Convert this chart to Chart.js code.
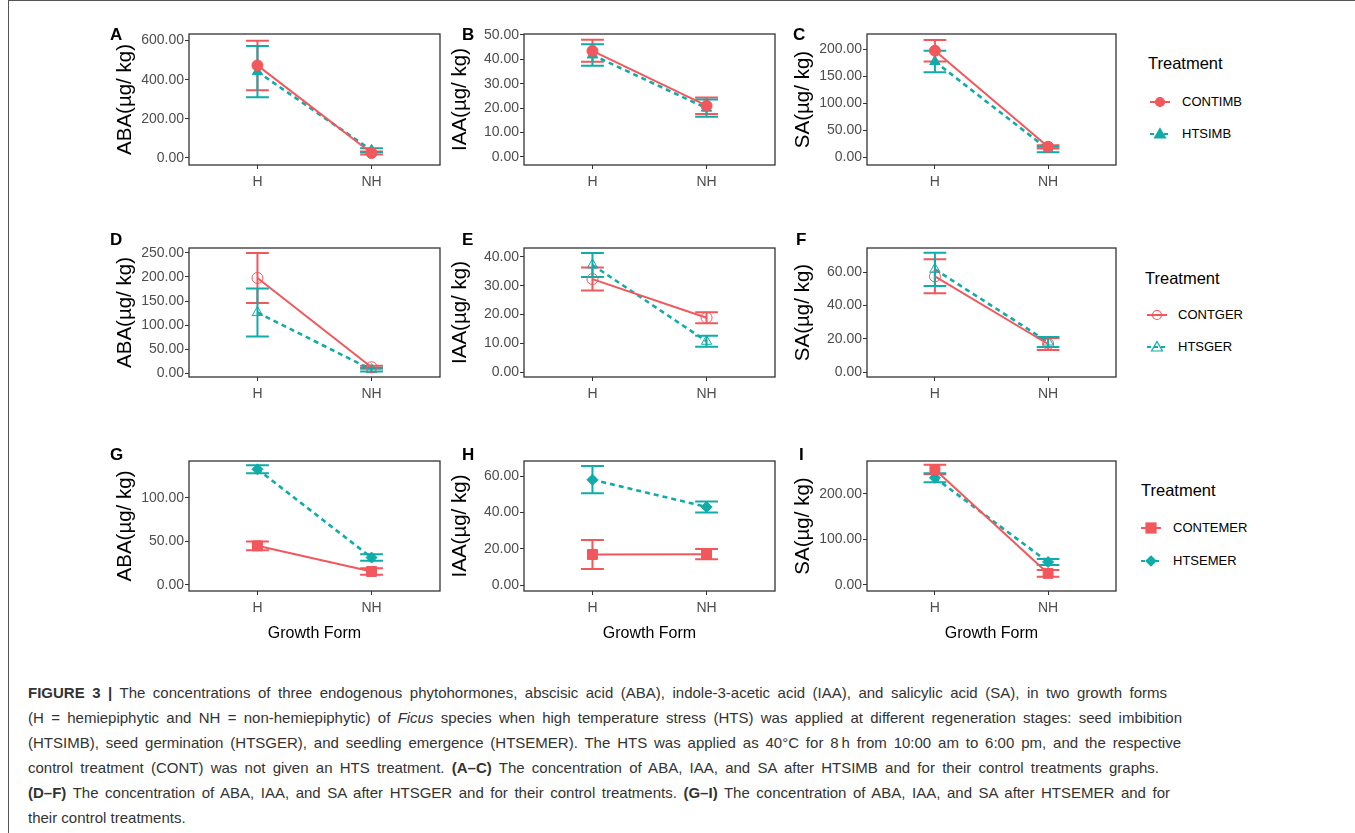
<!DOCTYPE html>
<html>
<head>
<meta charset="utf-8">
<title>Figure 3 | Phytohormones in Ficus</title>
<script src="https://cdn.jsdelivr.net/npm/chart.js@4.4.1/dist/chart.umd.min.js"></script>
<style>
  body { margin: 0; background: #fff; font-family: 'Liberation Sans', Arial, sans-serif; }
  #page { position: relative; width: 1355px; height: 833px; overflow: hidden; }
  #frame { position: absolute; left: 8px; top: 0; width: 1400px; height: 900px; border-left: 1px solid #555; border-top: 1px solid #555; }
  canvas { position: absolute; }
  .tag { position: absolute; font-weight: bold; font-size: 17px; line-height: 17px; color: #000; }
  .ttl { position: absolute; font-size: 16.5px; line-height: 20px; color: #000; white-space: nowrap; }
  .item { position: absolute; font-size: 13px; line-height: 16px; color: #000; white-space: nowrap; }
  .key { position: absolute; }
  .cap { position: absolute; left: 28px; height: 25px; line-height: 25px; font-size: 15px; color: #333;
         white-space: nowrap; text-align: justify; text-align-last: justify; }
  .cap.last { text-align: left; text-align-last: left; }
</style>
</head>
<body>
<div id="page">
  <div id="frame"></div>
</div>
<script>
// ------------------------------------------------------------------ //
// Datos (media, error) para H y NH

const growthForms = ['H', 'NH'];

const treatmentsImb = ['CONTIMB', 'HTSIMB'];
const treatmentsGer = ['CONTGER', 'HTSGER'];
const treatmentsEmer = ['CONTEMER', 'HTSEMER'];

const hormoneTitles = ['ABA(\u00b5g/ kg)', 'IAA(\u00b5g/ kg)', 'SA(\u00b5g/ kg)'];
const panelTags = [['A', 'B', 'C'], ['D', 'E', 'F'], ['G', 'H', 'I']];

// Imbibicion (A-C)
const abaImbCont = [473, 24];     const abaImbContErr = [127, 8];
const abaImbHts = [441, 38];      const abaImbHtsErr = [131, 10];
const iaaImbCont = [43.5, 21];    const iaaImbContErr = [4.5, 3.4];
const iaaImbHts = [41.8, 20];     const iaaImbHtsErr = [4.4, 3.5];
const saImbCont = [197, 19];      const saImbContErr = [20, 3];
const saImbHts = [177, 14];       const saImbHtsErr = [20, 5];

// Germinacion (D-F)
const abaGerCont = [198, 12];     const abaGerContErr = [52, 3];
const abaGerHts = [126, 7];       const abaGerHtsErr = [50, 4];
const iaaGerCont = [32.3, 18.9];  const iaaGerContErr = [4, 1.9];
const iaaGerHts = [37.2, 10.7];   const iaaGerHtsErr = [4.2, 1.9];
const saGerCont = [57.4, 16.8];   const saGerContErr = [10.2, 3.6];
const saGerHts = [61.6, 18];      const saGerHtsErr = [10, 3];

// Emergencia (G-I)
const abaEmerCont = [45, 15.5];   const abaEmerContErr = [5, 3.8];
const abaEmerHts = [133, 31.5];   const abaEmerHtsErr = [4.7, 3.7];
const iaaEmerCont = [16.8, 17];   const iaaEmerContErr = [8, 2.8];
const iaaEmerHts = [58, 43];      const iaaEmerHtsErr = [7.5, 3];
const saEmerCont = [254, 25.5];   const saEmerContErr = [10.5, 7.5];
const saEmerHts = [235.6, 50.5];  const saEmerHtsErr = [10, 6.5];

// Ticks del eje Y
const ticksAbaImb = [0, 200, 400, 600];
const ticksIaaImb = [0, 10, 20, 30, 40, 50];
const ticksSaImb = [0, 50, 100, 150, 200];
const ticksAbaGer = [0, 50, 100, 150, 200, 250];
const ticksIaaGer = [0, 10, 20, 30, 40];
const ticksSaGer = [0, 20, 40, 60];
const ticksAbaEmer = [0, 50, 100];
const ticksIaaEmer = [0, 20, 40, 60];
const ticksSaEmer = [0, 100, 200];

// ------------------------------------------------------------------ //

const RED = '#F2575C';
const TEAL = '#0FACA9';
const AXIS_GREY = '#4D4D4D';

const rows = [
    {
        treatments: treatmentsImb, shapes: ['circle', 'triangle'], hollow: false,
        panels: [
            { cont: abaImbCont, contErr: abaImbContErr, hts: abaImbHts, htsErr: abaImbHtsErr, ticks: ticksAbaImb, lim: [-37.4, 634] },
            { cont: iaaImbCont, contErr: iaaImbContErr, hts: iaaImbHts, htsErr: iaaImbHtsErr, ticks: ticksIaaImb, lim: [-3.3, 50.4] },
            { cont: saImbCont, contErr: saImbContErr, hts: saImbHts, htsErr: saImbHtsErr, ticks: ticksSaImb, lim: [-14.8, 228] }
        ]
    },
    {
        treatments: treatmentsGer, shapes: ['circle', 'triangle'], hollow: true,
        panels: [
            { cont: abaGerCont, contErr: abaGerContErr, hts: abaGerHts, htsErr: abaGerHtsErr, ticks: ticksAbaGer, lim: [-8.3, 260.4] },
            { cont: iaaGerCont, contErr: iaaGerContErr, hts: iaaGerHts, htsErr: iaaGerHtsErr, ticks: ticksIaaGer, lim: [-1.7, 43.1] },
            { cont: saGerCont, contErr: saGerContErr, hts: saGerHts, htsErr: saGerHtsErr, ticks: ticksSaGer, lim: [-3, 74.4] }
        ]
    },
    {
        treatments: treatmentsEmer, shapes: ['rect', 'rectRot'], hollow: false,
        panels: [
            { cont: abaEmerCont, contErr: abaEmerContErr, hts: abaEmerHts, htsErr: abaEmerHtsErr, ticks: ticksAbaEmer, lim: [-6.9, 142.5] },
            { cont: iaaEmerCont, contErr: iaaEmerContErr, hts: iaaEmerHts, htsErr: iaaEmerHtsErr, ticks: ticksIaaEmer, lim: [-3.3, 68.3] },
            { cont: saEmerCont, contErr: saEmerContErr, hts: saEmerHts, htsErr: saEmerHtsErr, ticks: ticksSaEmer, lim: [-13.2, 272.5] }
        ]
    }
];

// Geometria de los paneles (caja del grafico en pixeles de pagina)
const boxLeft = [189, 524, 867];
const boxWidth = [251, 251, 249];
const boxTop = [34, 248, 461];
const boxHeight = [131, 129, 130];
const Y_W = 76;
const PAD_T = 10;
const PAD_R = 8;
const X_H = [30, 30, 52];

const tagPos = [[[110, 26], [462, 26], [793, 26]], [[110, 231], [462, 231], [796, 231]], [[110, 446], [462, 446], [799, 446]]];
const legendPos = [
    { title: [1148, 63], label: 1182, key: 1160, items: [101.5, 133.5] },
    { title: [1145, 277.5], label: 1178, key: 1157, items: [314.5, 347] },
    { title: [1141, 489.5], label: 1173, key: 1151, items: [527.5, 560.5] }
];

const CAP = 0.1;

Chart.defaults.font.family = "'Liberation Sans', Arial, sans-serif";

// Barras de error dibujadas con las escalas del grafico
const errorBars = {
    id: 'errorBars',
    beforeDatasetsDraw(chart) {
        const { ctx, scales: { x, y } } = chart;
        chart.data.datasets.forEach(ds => {
            ctx.save();
            ctx.strokeStyle = ds.borderColor;
            ctx.lineWidth = 2;
            ctx.setLineDash([]);
            ds.data.forEach((pt, i) => {
                const px = x.getPixelForValue(pt.x);
                const l = x.getPixelForValue(pt.x - CAP);
                const r = x.getPixelForValue(pt.x + CAP);
                const top = y.getPixelForValue(pt.y + ds.errors[i]);
                const bottom = y.getPixelForValue(pt.y - ds.errors[i]);
                ctx.beginPath();
                ctx.moveTo(px, top); ctx.lineTo(px, bottom);
                ctx.moveTo(l, top); ctx.lineTo(r, top);
                ctx.moveTo(l, bottom); ctx.lineTo(r, bottom);
                ctx.stroke();
            });
            ctx.restore();
        });
    }
};

// Marco completo del panel
const panelFrame = {
    id: 'panelFrame',
    afterDraw(chart) {
        const { ctx, chartArea: a } = chart;
        ctx.save();
        ctx.strokeStyle = '#333';
        ctx.lineWidth = 1.3;
        ctx.strokeRect(a.left, a.top, a.right - a.left, a.bottom - a.top);
        ctx.restore();
    }
};

const page = document.getElementById('page');

function toPoints(values) {
    return values.map((v, i) => ({ x: i + 1, y: v }));
}

function makeDataset(label, means, errs, color, dashed, shape, hollow) {
    const big = shape === 'triangle' ? 6 : (shape === 'rect' ? 7 : 5.5);
    return {
        label: label,
        data: toPoints(means),
        errors: errs,
        borderColor: color,
        backgroundColor: color,
        borderWidth: dashed ? 2.6 : 2,
        borderDash: dashed ? [5, 4] : [],
        pointStyle: shape,
        pointRadius: big,
        pointBackgroundColor: hollow ? 'rgba(0,0,0,0)' : color,
        pointBorderColor: color,
        pointBorderWidth: 1,
        tension: 0,
        fill: false
    };
}

function buildPanel(r, c) {
    const row = rows[r];
    const p = row.panels[c];
    const canvas = document.createElement('canvas');
    const w = Y_W + boxWidth[c] + PAD_R;
    const h = PAD_T + boxHeight[r] + X_H[r];
    canvas.width = w;
    canvas.height = h;
    canvas.style.left = (boxLeft[c] - Y_W) + 'px';
    canvas.style.top = (boxTop[r] - PAD_T) + 'px';
    page.appendChild(canvas);

    new Chart(canvas.getContext('2d'), {
        type: 'line',
        data: {
            datasets: [
                makeDataset(row.treatments[0], p.cont, p.contErr, RED, false, row.shapes[0], row.hollow),
                makeDataset(row.treatments[1], p.hts, p.htsErr, TEAL, true, row.shapes[1], row.hollow)
            ]
        },
        options: {
            responsive: false,
            animation: false,
            layout: { padding: { top: PAD_T, right: PAD_R, left: 0, bottom: 0 } },
            plugins: { legend: { display: false }, tooltip: { enabled: false } },
            scales: {
                x: {
                    type: 'linear',
                    min: 0.4,
                    max: 2.6,
                    afterBuildTicks: axis => { axis.ticks = growthForms.map((g, i) => ({ value: i + 1 })); },
                    afterFit: axis => { axis.height = X_H[r]; },
                    ticks: {
                        callback: v => growthForms[v - 1],
                        font: { size: 14 },
                        color: AXIS_GREY,
                        padding: 5,
                        autoSkip: false,
                        maxRotation: 0
                    },
                    grid: { display: true, drawOnChartArea: false, drawTicks: true, tickLength: 4, color: '#333' },
                    border: { display: false },
                    title: {
                        display: r === 2,
                        text: 'Growth Form',
                        font: { size: 16 },
                        color: '#000',
                        padding: { top: 0, bottom: 0 }
                    }
                },
                y: {
                    type: 'linear',
                    min: p.lim[0],
                    max: p.lim[1],
                    afterBuildTicks: axis => { axis.ticks = p.ticks.map(v => ({ value: v })); },
                    afterFit: axis => { axis.width = Y_W; },
                    ticks: {
                        callback: v => v.toFixed(2),
                        font: { size: 14 },
                        color: AXIS_GREY,
                        padding: 1
                    },
                    grid: { display: true, drawOnChartArea: false, drawTicks: true, tickLength: 4, color: '#333' },
                    border: { display: false },
                    title: {
                        display: true,
                        text: hormoneTitles[c],
                        font: { size: 20.5 },
                        color: '#000',
                        padding: { top: 0, bottom: 0 }
                    }
                }
            }
        },
        plugins: [errorBars, panelFrame]
    });

    const tag = document.createElement('div');
    tag.className = 'tag';
    tag.textContent = panelTags[r][c];
    tag.style.left = tagPos[r][c][0] + 'px';
    tag.style.top = tagPos[r][c][1] + 'px';
    page.appendChild(tag);
}

function keySvg(color, dashed, shape, hollow) {
    const fill = hollow ? 'none' : color;
    const sw = 'stroke="' + color + '" stroke-width="1.2"';
    let marker;
    if (shape === 'circle') marker = `<circle cx="11" cy="8" r="4.5" fill="${fill}" ${sw}/>`;
    else if (shape === 'triangle') marker = `<polygon points="11,2.5 16.5,12 5.5,12" fill="${fill}" ${sw}/>`;
    else if (shape === 'rect') marker = `<rect x="6" y="3" width="10" height="10" fill="${fill}" ${sw}/>`;
    else marker = `<polygon points="11,3 16,8 11,13 6,8" fill="${fill}" ${sw}/>`;
    const dash = dashed ? ' stroke-dasharray="4 3"' : '';
    return `<svg width="22" height="16" viewBox="0 0 22 16"><line x1="1" y1="8" x2="21" y2="8" stroke="${color}" stroke-width="2"${dash}/>${marker}</svg>`;
}

function buildLegend(r) {
    const row = rows[r];
    const pos = legendPos[r];
    const title = document.createElement('div');
    title.className = 'ttl';
    title.textContent = 'Treatment';
    title.style.left = pos.title[0] + 'px';
    title.style.top = (pos.title[1] - 10) + 'px';
    page.appendChild(title);

    [RED, TEAL].forEach((color, i) => {
        const key = document.createElement('div');
        key.className = 'key';
        key.innerHTML = keySvg(color, i === 1, row.shapes[i], row.hollow);
        key.style.left = (pos.key - 11) + 'px';
        key.style.top = (pos.items[i] - 8) + 'px';
        page.appendChild(key);

        const item = document.createElement('div');
        item.className = 'item';
        item.textContent = row.treatments[i];
        item.style.left = pos.label + 'px';
        item.style.top = (pos.items[i] - 8) + 'px';
        page.appendChild(item);
    });
}

for (let r = 0; r < 3; r++) {
    for (let c = 0; c < 3; c++) buildPanel(r, c);
    buildLegend(r);
}

// Pie de figura
const captionLines = [
    { html: '<b>FIGURE 3 |</b> The concentrations of three endogenous phytohormones, abscisic acid (ABA), indole-3-acetic acid (IAA), and salicylic acid (SA), in two growth forms', right: 1167 },
    { html: '(H = hemiepiphytic and NH = non-hemiepiphytic) of <i>Ficus</i> species when high temperature stress (HTS) was applied at different regeneration stages: seed imbibition', right: 1182 },
    { html: '(HTSIMB), seed germination (HTSGER), and seedling emergence (HTSEMER). The HTS was applied as 40\u00b0C for 8\u2009h from 10:00 am to 6:00 pm, and the respective', right: 1181 },
    { html: 'control treatment (CONT) was not given an HTS treatment. <b>(A\u2013C)</b> The concentration of ABA, IAA, and SA after HTSIMB and for their control treatments graphs.', right: 1159 },
    { html: '<b>(D\u2013F)</b> The concentration of ABA, IAA, and SA after HTSGER and for their control treatments. <b>(G\u2013I)</b> The concentration of ABA, IAA, and SA after HTSEMER and for', right: 1170 },
    { html: 'their control treatments.', right: null }
];

captionLines.forEach((line, i) => {
    const div = document.createElement('div');
    div.className = line.right ? 'cap' : 'cap last';
    div.innerHTML = line.html;
    div.style.top = (679.5 + i * 25) + 'px';
    if (line.right) div.style.width = (line.right - 28) + 'px';
    page.appendChild(div);
});
</script>
</body>
</html>
